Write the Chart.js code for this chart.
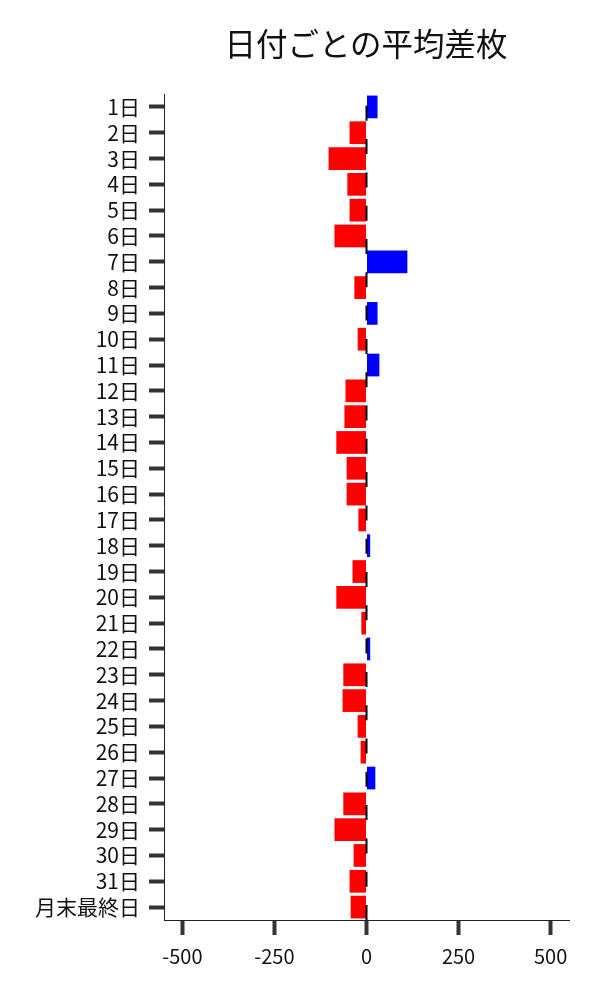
<!DOCTYPE html>
<html>
<head>
<meta charset="utf-8">
<script src="https://cdn.jsdelivr.net/npm/chart.js@4.4.1/dist/chart.umd.min.js"></script>
<style>
    html, body { margin: 0; padding: 0; background: #fff; }
    #wrap { position: relative; width: 600px; height: 1000px; }
    #title {
        position: absolute; left: 166px; width: 400px; top: 19px;
        text-align: center; font-family: 'Noto Sans CJK JP', sans-serif;
        font-size: 31.5px; color: #111; line-height: 46px;
    }
</style>
</head>
<body>
<div id="wrap">
    <div id="title">日付ごとの平均差枚</div>
    <canvas id="chart-diff" width="600" height="1000"></canvas>
</div>
<script>
// Average coin difference per day of month
const dayLabels = [
    '1日', '2日', '3日', '4日', '5日', '6日', '7日', '8日', '9日', '10日',
    '11日', '12日', '13日', '14日', '15日', '16日', '17日', '18日', '19日', '20日',
    '21日', '22日', '23日', '24日', '25日', '26日', '27日', '28日', '29日', '30日',
    '31日', '月末最終日'
];
const avgDiff = [
    30, -46, -103, -52, -46, -87, 111, -33, 30, -24,
    35, -57, -60, -82, -54, -54, -22, 10, -38, -82,
    -14, 10, -63, -65, -24, -16, 24, -63, -87, -35,
    -46, -43
];
const xTicks = [-500, -250, 0, 250, 500];

const fontFace = "'Noto Sans CJK JP', sans-serif";
const tickColor = '#333';

// dashed line along zero, drawn bottom -> top
const zeroLinePlugin = {
    id: 'zeroLine',
    afterDatasetsDraw(chart) {
        const { ctx, chartArea, scales } = chart;
        const x = scales.x.getPixelForValue(0);
        ctx.save();
        ctx.strokeStyle = '#000';
        ctx.lineWidth = 2;
        ctx.setLineDash([15, 18.3]);
        ctx.beginPath();
        ctx.moveTo(x, chartArea.bottom);
        ctx.lineTo(x, chartArea.top);
        ctx.stroke();
        ctx.restore();
    }
};

const ctx = document.getElementById('chart-diff').getContext('2d');
new Chart(ctx, {
    type: 'bar',
    data: {
        labels: dayLabels,
        datasets: [{
            data: avgDiff,
            backgroundColor: avgDiff.map(v => v >= 0 ? '#0000ff' : '#ff0000'),
            borderWidth: 0,
            barPercentage: 0.88,
            categoryPercentage: 1.0
        }]
    },
    options: {
        indexAxis: 'y',
        responsive: false,
        animation: false,
        layout: { padding: { top: 94, right: 31, left: 0, bottom: 0 } },
        plugins: { legend: { display: false }, tooltip: { enabled: false } },
        scales: {
            y: {
                afterFit: (scale) => { scale.width = 164; },
                grid: {
                    offset: false,
                    drawOnChartArea: false,
                    tickLength: 15,
                    tickWidth: 4,
                    color: tickColor
                },
                border: { color: '#222', width: 1 },
                ticks: {
                    autoSkip: false,
                    padding: 9,
                    color: '#111',
                    font: { family: fontFace, size: 21 }
                }
            },
            x: {
                min: -550,
                max: 550,
                afterFit: (scale) => { scale.height = 80; },
                afterBuildTicks: (scale) => {
                    scale.ticks = xTicks.map(v => ({ value: v }));
                },
                grid: {
                    drawOnChartArea: false,
                    tickLength: 15,
                    tickWidth: 4,
                    color: tickColor
                },
                border: { color: '#222', width: 1 },
                ticks: {
                    padding: 9,
                    color: '#111',
                    font: { family: fontFace, size: 20 }
                }
            }
        }
    },
    plugins: [zeroLinePlugin]
});
</script>
</body>
</html>
